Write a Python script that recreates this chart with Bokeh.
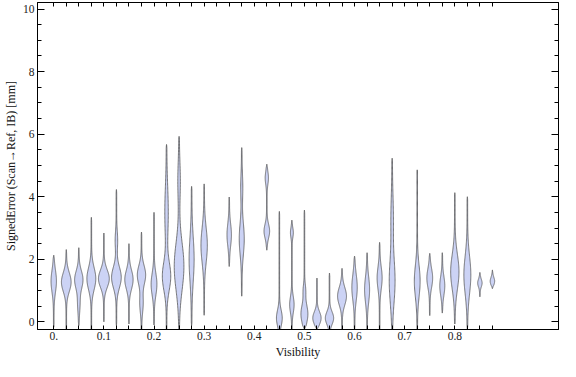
import numpy as np
from bokeh.plotting import figure
from bokeh.models import (Range1d, FixedTicker, LinearAxis, CustomJSTickFormatter,
                          SingleIntervalTicker, ColumnDataSource)
from bokeh.embed import file_html
from bokeh.resources import INLINE

# ---- data (violin summaries) ----
positions = [0.0, 0.025, 0.05, 0.075, 0.1, 0.125, 0.15, 0.175, 0.2, 0.225, 0.25, 0.275, 0.3,
             0.35, 0.375, 0.425, 0.45, 0.475, 0.5, 0.525, 0.55, 0.575, 0.6, 0.625, 0.65, 0.675,
             0.725, 0.75, 0.775, 0.8, 0.825, 0.85, 0.875]
lows = [-0.17, -0.42, -0.12, -0.38, 0.0, -0.12, -0.07, -0.38, -0.10, -1.01, -1.48, -0.12, 0.21,
        1.77, 0.82, 2.29, -0.70, -0.23, -0.23, -0.25, -0.33, -0.49, -0.28, -0.54, -0.56, -0.96,
        -0.75, 0.20, 0.28, -0.07, -0.23, 0.80, 1.06]
highs = [2.13, 2.31, 2.37, 3.34, 2.84, 4.23, 2.50, 2.87, 3.50, 5.67, 5.93, 4.33, 4.41,
         3.99, 5.57, 5.04, 3.53, 3.25, 3.57, 1.40, 1.56, 1.71, 2.10, 2.21, 2.54, 5.23,
         4.86, 2.19, 2.21, 4.13, 4.00, 1.58, 1.66]
# main density peak: centre, spread, relative height
peak_mu = [1.30, 1.27, 1.35, 1.38, 1.38, 1.42, 1.35, 1.50, 1.20, 1.45, 1.77, 2.00, 2.45,
           2.78, 2.65, 2.90, 0.12, 0.55, 0.25, 0.12, 0.12, 0.82, 1.10, 1.03, 1.40, 1.30,
           1.30, 1.40, 1.15, 1.60, 1.50, 1.24, 1.30]
peak_sd = [0.35, 0.30, 0.28, 0.35, 0.28, 0.33, 0.30, 0.30, 0.35, 0.45, 0.75, 0.70, 0.55,
           0.35, 0.50, 0.22, 0.25, 0.25, 0.30, 0.20, 0.20, 0.28, 0.40, 0.40, 0.35, 0.70,
           0.50, 0.30, 0.30, 0.55, 0.60, 0.12, 0.12]
peak_h = [2.5, 4.7, 4.0, 4.3, 5.3, 4.7, 4.0, 4.0, 2.7, 4.0, 4.7, 2.3, 3.0,
          2.0, 2.3, 2.6, 2.7, 2.0, 3.3, 4.0, 4.0, 4.3, 2.5, 2.3, 2.3, 2.7,
          2.7, 2.7, 2.3, 4.0, 3.3, 2.0, 2.0]
# secondary density bump (height 0 = none)
bump_mu = [0, 0, 0.6, 0, 0, 2.6, 0, 0.6, 0, 3.5, 4.5, 0, 0,
           0, 4.3, 4.6, 0, 2.85, 1.0, 0, 0, 0, 0, 0, 0, 3.3,
           0, 0, 0, 0, 0, 0, 0]
bump_sd = [1, 1, 0.3, 1, 1, 0.3, 1, 0.3, 1, 0.8, 0.6, 1, 1,
           1, 0.4, 0.2, 1, 0.15, 0.2, 1, 1, 1, 1, 1, 1, 0.7,
           1, 1, 1, 1, 1, 1, 1]
bump_h = [0, 0, 1.0, 0, 0, 1.0, 0, 1.5, 0, 1.5, 1.0, 0, 0,
          0, 0.8, 1.4, 0, 1.2, 1.0, 0, 0, 0, 0, 0, 0, 1.0,
          0, 0, 0, 0, 0, 0, 0]

x_ticks = [0.0, 0.025, 0.05, 0.075, 0.1, 0.125, 0.15, 0.175, 0.2, 0.225, 0.25, 0.275,
           0.3, 0.325, 0.35, 0.375, 0.4, 0.425, 0.45, 0.475, 0.5, 0.525, 0.55, 0.575,
           0.6, 0.625, 0.65, 0.675, 0.7, 0.725, 0.75, 0.775, 0.8, 0.825, 0.85, 0.875]

# ---- figure ----
FONT = "Liberation Serif"
p = figure(width=560, height=361, output_backend="svg", toolbar_location=None,
           x_range=Range1d(-0.0324, 1.0068), y_range=Range1d(-0.245, 10.21),
           min_border_left=30, min_border_right=2, min_border_top=2, min_border_bottom=26)
p.grid.visible = False
p.outline_line_color = "black"
p.outline_line_width = 1
p.background_fill_color = "white"

# ---- violins ----
width_scale = 1.0 / 518.0   # density height units -> data x units
tail = 0.3
xs, ys = [], []
for i in range(len(positions)):
    lo, hi = lows[i], highs[i]
    yy = np.linspace(lo, hi, 160)
    w = (peak_h[i] * np.exp(-0.5 * ((yy - peak_mu[i]) / peak_sd[i]) ** 2)
         + bump_h[i] * np.exp(-0.5 * ((yy - bump_mu[i]) / bump_sd[i]) ** 2) + tail)
    taper = np.clip(np.minimum(yy - lo, hi - yy) / 0.12, 0, 1) ** 0.6
    w = w * taper * width_scale
    cx = positions[i]
    xs.append(list(cx + w) + list((cx - w)[::-1]))
    ys.append(list(yy) + list(yy[::-1]))

src = ColumnDataSource(dict(xs=xs, ys=ys))
p.patches("xs", "ys", source=src, fill_color="#CCD3F5", fill_alpha=1.0,
          line_color="#505050", line_width=0.9, line_alpha=0.85)

# ---- axes ----
xfmt = CustomJSTickFormatter(code="""
const k = Math.round(tick*40);
if (k % 4 != 0) return "";
if (k == 0) return "0.";
return (k/40).toFixed(1);
""")
blank = CustomJSTickFormatter(code="return '';")

def style(ax, tick_in, minor_in):
    ax.axis_line_color = "black"
    ax.major_tick_line_color = "black"
    ax.minor_tick_line_color = "black"
    ax.major_tick_in = tick_in
    ax.major_tick_out = 0
    ax.minor_tick_in = minor_in
    ax.minor_tick_out = 0
    ax.major_label_text_font = FONT
    ax.major_label_text_font_size = "11.5px"
    ax.major_label_text_color = "#222222"
    ax.axis_label_text_font = FONT
    ax.axis_label_text_font_size = "12px"
    ax.axis_label_text_font_style = "normal"
    ax.axis_label_text_color = "#111111"

xa = p.xaxis[0]
xa.ticker = FixedTicker(ticks=x_ticks, minor_ticks=[])
xa.formatter = xfmt
xa.axis_label = "Visibility"
style(xa, 4, 0)
xa.major_label_standoff = 2
xa.axis_label_standoff = 2

ya = p.yaxis[0]
ya.ticker = SingleIntervalTicker(interval=2, num_minor_ticks=4)
ya.axis_label = "SignedError (Scan\u2192Ref, IB) [mm]"
style(ya, 7, 4)
ya.major_label_standoff = 3
ya.axis_label_standoff = 2

top = LinearAxis(ticker=FixedTicker(ticks=x_ticks, minor_ticks=[]), formatter=blank)
style(top, 4, 0)
top.major_label_standoff = 0
p.add_layout(top, "above")

right = LinearAxis(ticker=SingleIntervalTicker(interval=2, num_minor_ticks=4), formatter=blank)
style(right, 7, 4)
right.major_label_standoff = 0
p.add_layout(right, "right")

open("out.html", "w").write(file_html(p, INLINE))
